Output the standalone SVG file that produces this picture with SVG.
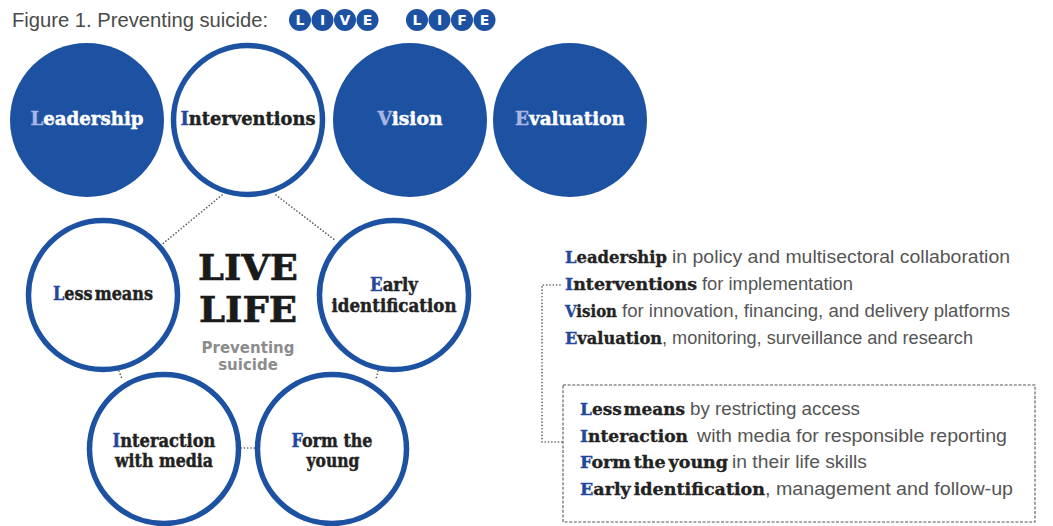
<svg xmlns="http://www.w3.org/2000/svg" width="1053" height="526" viewBox="0 0 1053 526">
  <style>
    .bg { fill: #ffffff; }
    .solid { fill: #1d52a3; }
    .ring { fill: #ffffff; stroke: #1d52a3; stroke-width: 5.5; }
    .lbl { font-family: "DejaVu Serif", "Liberation Serif", serif; font-weight: bold; font-size: 18px; text-anchor: middle; stroke-width: 0.45; }
    .lbl-w { fill: #ffffff; stroke: #ffffff; }
    .lbl-d { fill: #222222; stroke: #222222; }
    .ini-l { fill: #aab5e3; stroke: #aab5e3; }
    .ini-d { fill: #23479b; stroke: #23479b; }
    .title { font-family: "Liberation Sans", Arial, sans-serif; font-size: 20px; fill: #4a4a4a; }
    .badge { fill: #1d52a3; }
    .badge-t { font-family: "DejaVu Sans", "Liberation Sans", sans-serif; font-weight: bold; font-size: 14px; fill: #ffffff; text-anchor: middle; }
    .big { font-family: "DejaVu Serif", "Liberation Serif", serif; font-weight: bold; font-size: 36px; fill: #1a1a1a; stroke: #1a1a1a; stroke-width: 0.6; text-anchor: middle; }
    .sub { font-family: "DejaVu Sans", "Liberation Sans", sans-serif; font-weight: bold; font-size: 15px; fill: #8c8c8c; text-anchor: middle; }
    .key { font-family: "DejaVu Serif", "Liberation Serif", serif; font-weight: bold; font-size: 17px; fill: #222222; stroke: #222222; stroke-width: 0.35; }
    .desc { font-family: "Liberation Sans", Arial, sans-serif; font-size: 17.5px; fill: #555555; }
    .dots { fill: none; stroke: #555555; stroke-width: 1.6; stroke-dasharray: 0.1 3.2; stroke-linecap: round; }
    .frame { fill: none; stroke: #555555; stroke-width: 1.1; stroke-dasharray: 3 1.6; }
  </style>

  <rect class="bg" x="0" y="0" width="1053" height="526"/>

  <!-- heading with letter badges -->
  <g id="heading">
    <text class="title" x="12" y="27" textLength="256" lengthAdjust="spacingAndGlyphs">Figure 1. Preventing suicide:</text>
    <circle class="badge" cx="300" cy="20" r="11"/><text class="badge-t" x="300" y="25">L</text>
    <circle class="badge" cx="322.5" cy="20" r="11"/><text class="badge-t" x="322.5" y="25">I</text>
    <circle class="badge" cx="345" cy="20" r="11"/><text class="badge-t" x="345" y="25">V</text>
    <circle class="badge" cx="367.5" cy="20" r="11"/><text class="badge-t" x="367.5" y="25">E</text>
    <circle class="badge" cx="417" cy="20" r="11"/><text class="badge-t" x="417" y="25">L</text>
    <circle class="badge" cx="439.5" cy="20" r="11"/><text class="badge-t" x="439.5" y="25">I</text>
    <circle class="badge" cx="462" cy="20" r="11"/><text class="badge-t" x="462" y="25">F</text>
    <circle class="badge" cx="484.5" cy="20" r="11"/><text class="badge-t" x="484.5" y="25">E</text>
  </g>

  <!-- dotted links between circles and the bracket to the list -->
  <g id="connectors">
    <path class="dots" d="M222,195 L160,246"/>
    <path class="dots" d="M276,195 L336,241"/>
    <path class="dots" d="M119,371 L122,379"/>
    <path class="dots" d="M378,371 L376,379"/>
    <path class="dots" d="M241,448 L257,448"/>
    <path class="dots" d="M560,285 H542 V442 H563"/>
  </g>

  <!-- top row: LIVE -->
  <g id="leadership">
    <circle class="solid" cx="87" cy="120" r="77"/>
    <text class="lbl lbl-w" x="87" y="125" textLength="113" lengthAdjust="spacingAndGlyphs"><tspan class="ini-l">L</tspan>eadership</text>
  </g>
  <g id="interventions">
    <circle class="ring" cx="248" cy="120" r="74.5"/>
    <text class="lbl lbl-d" x="248" y="125" textLength="135" lengthAdjust="spacingAndGlyphs"><tspan class="ini-d">I</tspan>nterventions</text>
  </g>
  <g id="vision">
    <circle class="solid" cx="410" cy="120" r="77"/>
    <text class="lbl lbl-w" x="410" y="125" textLength="65" lengthAdjust="spacingAndGlyphs"><tspan class="ini-l">V</tspan>ision</text>
  </g>
  <g id="evaluation">
    <circle class="solid" cx="570" cy="120" r="77"/>
    <text class="lbl lbl-w" x="570" y="125" textLength="110" lengthAdjust="spacingAndGlyphs"><tspan class="ini-l">E</tspan>valuation</text>
  </g>

  <!-- centre title -->
  <g id="live-life">
    <text class="big" x="248" y="280" textLength="100" lengthAdjust="spacingAndGlyphs">LIVE</text>
    <text class="big" x="248" y="322" textLength="98" lengthAdjust="spacingAndGlyphs">LIFE</text>
    <text class="sub" x="248" y="353">Preventing</text>
    <text class="sub" x="248" y="370">suicide</text>
  </g>

  <!-- lower circles: LIFE -->
  <g id="less-means">
    <circle class="ring" cx="103" cy="295" r="74.5"/>
    <text class="lbl lbl-d" x="103" y="300" textLength="100" lengthAdjust="spacingAndGlyphs" word-spacing="-4"><tspan class="ini-d">L</tspan>ess means</text>
  </g>
  <g id="early-identification">
    <circle class="ring" cx="394" cy="295" r="74.5"/>
    <text class="lbl lbl-d" x="394" y="291" textLength="48" lengthAdjust="spacingAndGlyphs"><tspan class="ini-d">E</tspan>arly</text>
    <text class="lbl lbl-d" x="394" y="312" textLength="125" lengthAdjust="spacingAndGlyphs">identification</text>
  </g>
  <g id="interaction-media">
    <circle class="ring" cx="164" cy="449" r="74.5"/>
    <text class="lbl lbl-d" x="164" y="447" textLength="103" lengthAdjust="spacingAndGlyphs"><tspan class="ini-d">I</tspan>nteraction</text>
    <text class="lbl lbl-d" x="164" y="467" textLength="98" lengthAdjust="spacingAndGlyphs">with media</text>
  </g>
  <g id="form-young">
    <circle class="ring" cx="332" cy="449" r="74.5"/>
    <text class="lbl lbl-d" x="332" y="447" textLength="81" lengthAdjust="spacingAndGlyphs"><tspan class="ini-d">F</tspan>orm the</text>
    <text class="lbl lbl-d" x="333" y="467" textLength="53" lengthAdjust="spacingAndGlyphs">young</text>
  </g>

  <!-- legend: the four LIVE pillars -->
  <g id="legend-live">
    <text class="key" x="565" y="263" textLength="102" lengthAdjust="spacingAndGlyphs"><tspan class="ini-d">L</tspan>eadership</text>
    <text class="desc" x="672" y="263" textLength="338" lengthAdjust="spacingAndGlyphs">in policy and multisectoral collaboration</text>
    <text class="key" x="565" y="290" textLength="132" lengthAdjust="spacingAndGlyphs"><tspan class="ini-d">I</tspan>nterventions</text>
    <text class="desc" x="702" y="290" textLength="151" lengthAdjust="spacingAndGlyphs">for implementation</text>
    <text class="key" x="565" y="317" textLength="52" lengthAdjust="spacingAndGlyphs"><tspan class="ini-d">V</tspan>ision</text>
    <text class="desc" x="622" y="317" textLength="388" lengthAdjust="spacingAndGlyphs">for innovation, financing, and delivery platforms</text>
    <text class="key" x="565" y="344" textLength="97" lengthAdjust="spacingAndGlyphs"><tspan class="ini-d">E</tspan>valuation</text>
    <text class="desc" x="662" y="344" textLength="311" lengthAdjust="spacingAndGlyphs">, monitoring, surveillance and research</text>
  </g>

  <!-- legend: the four LIFE interventions -->
  <g id="legend-life">
    <rect class="frame" x="563" y="385" width="472" height="137"/>
    <text class="key" x="580" y="415" textLength="105" lengthAdjust="spacingAndGlyphs" word-spacing="-4"><tspan class="ini-d">L</tspan>ess means</text>
    <text class="desc" x="690" y="415" textLength="170" lengthAdjust="spacingAndGlyphs">by restricting access</text>
    <text class="key" x="580" y="442" textLength="108" lengthAdjust="spacingAndGlyphs"><tspan class="ini-d">I</tspan>nteraction</text>
    <text class="desc" x="697" y="442" textLength="310" lengthAdjust="spacingAndGlyphs">with media for responsible reporting</text>
    <text class="key" x="580" y="468" textLength="148" lengthAdjust="spacingAndGlyphs" word-spacing="-3"><tspan class="ini-d">F</tspan>orm the young</text>
    <text class="desc" x="732" y="468" textLength="135" lengthAdjust="spacingAndGlyphs">in their life skills</text>
    <text class="key" x="580" y="495" textLength="185" lengthAdjust="spacingAndGlyphs" word-spacing="-3"><tspan class="ini-d">E</tspan>arly identification</text>
    <text class="desc" x="765" y="495" textLength="248" lengthAdjust="spacingAndGlyphs">, management and follow-up</text>
  </g>
</svg>
